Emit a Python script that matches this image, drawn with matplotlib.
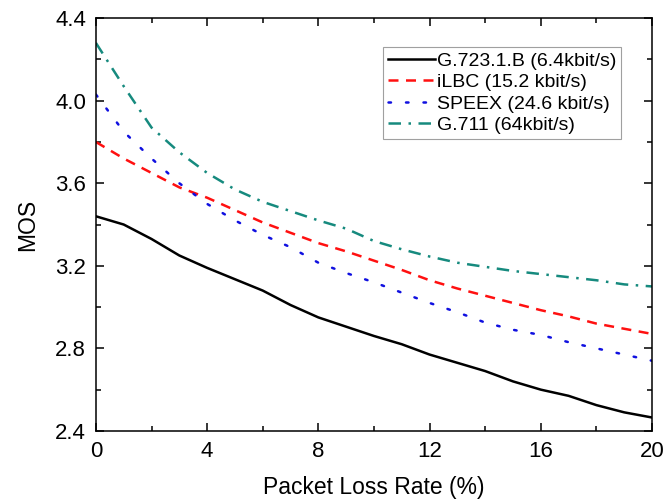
import matplotlib
matplotlib.use("Agg")
import matplotlib.pyplot as plt
from matplotlib.ticker import MultipleLocator

plt.rcParams["font.family"] = ["Liberation Sans", "DejaVu Sans"]

loss_rate = [0, 1, 2, 3, 4, 5, 6, 7, 8, 9, 10, 11, 12, 13, 14, 15, 16, 17, 18, 19, 20]

mos_g7231b = [3.44, 3.40, 3.33, 3.25, 3.19, 3.135, 3.08, 3.01, 2.95, 2.905, 2.86,
              2.82, 2.77, 2.73, 2.69, 2.64, 2.60, 2.57, 2.525, 2.49, 2.465]
mos_ilbc = [3.80, 3.72, 3.65, 3.58, 3.53, 3.47, 3.41, 3.36, 3.31, 3.27, 3.225,
            3.18, 3.13, 3.09, 3.055, 3.02, 2.985, 2.955, 2.92, 2.895, 2.87]
mos_speex = [4.03, 3.85, 3.72, 3.60, 3.50, 3.42, 3.35, 3.29, 3.215, 3.165, 3.12,
             3.07, 3.02, 2.975, 2.925, 2.89, 2.865, 2.83, 2.80, 2.77, 2.74]
mos_g711 = [4.28, 4.07, 3.87, 3.75, 3.65, 3.57, 3.51, 3.465, 3.42, 3.38, 3.32,
            3.28, 3.245, 3.215, 3.195, 3.175, 3.16, 3.145, 3.13, 3.11, 3.10]

labels = ["G.723.1.B (6.4kbit/s)", "iLBC (15.2 kbit/s)",
          "SPEEX (24.6 kbit/s)", "G.711 (64kbit/s)"]

fig = plt.figure(figsize=(6.66, 5.04), dpi=100)
ax = fig.add_axes([0.144, 0.145, 0.835, 0.819])

lw = 1.8
ax.plot(loss_rate, mos_g7231b, color="black", lw=lw, label=labels[0])
ax.plot(loss_rate, mos_ilbc, color="#ff1010", lw=lw, dashes=(4, 3), label=labels[1])
ax.plot(loss_rate, mos_speex, color="#1010e0", lw=lw, dashes=(1, 6),
        dash_capstyle="round", label=labels[2])
ax.plot(loss_rate, mos_g711, color="#168a7e", lw=lw, dashes=(5, 3, 1, 3),
        label=labels[3])

ax.set_xlim(0, 20)
ax.set_ylim(2.4, 4.4)
ax.xaxis.set_major_locator(MultipleLocator(4))
ax.xaxis.set_minor_locator(MultipleLocator(2))
ax.yaxis.set_major_locator(MultipleLocator(0.4))
ax.yaxis.set_minor_locator(MultipleLocator(0.2))
ax.tick_params(which="both", direction="in", top=True, right=True, width=1.1,
               labelsize=16, pad=7)
ax.tick_params(which="major", length=6)
ax.tick_params(which="minor", length=3.5)
for s in ax.spines.values():
    s.set_linewidth(1.1)

ax.set_xlabel("Packet Loss Rate (%)", fontsize=16.5, labelpad=10)
ax.set_ylabel("MOS", fontsize=16.5, labelpad=12)

leg = ax.legend(loc="upper right", bbox_to_anchor=(0.944, 0.93), fontsize=14,
                fancybox=False, edgecolor="#888888", handlelength=2.4,
                handletextpad=0.1, labelspacing=0.2, borderpad=0.25,
                borderaxespad=0)
leg.get_frame().set_linewidth(0.8)

fig.savefig("out.png", dpi=100)
